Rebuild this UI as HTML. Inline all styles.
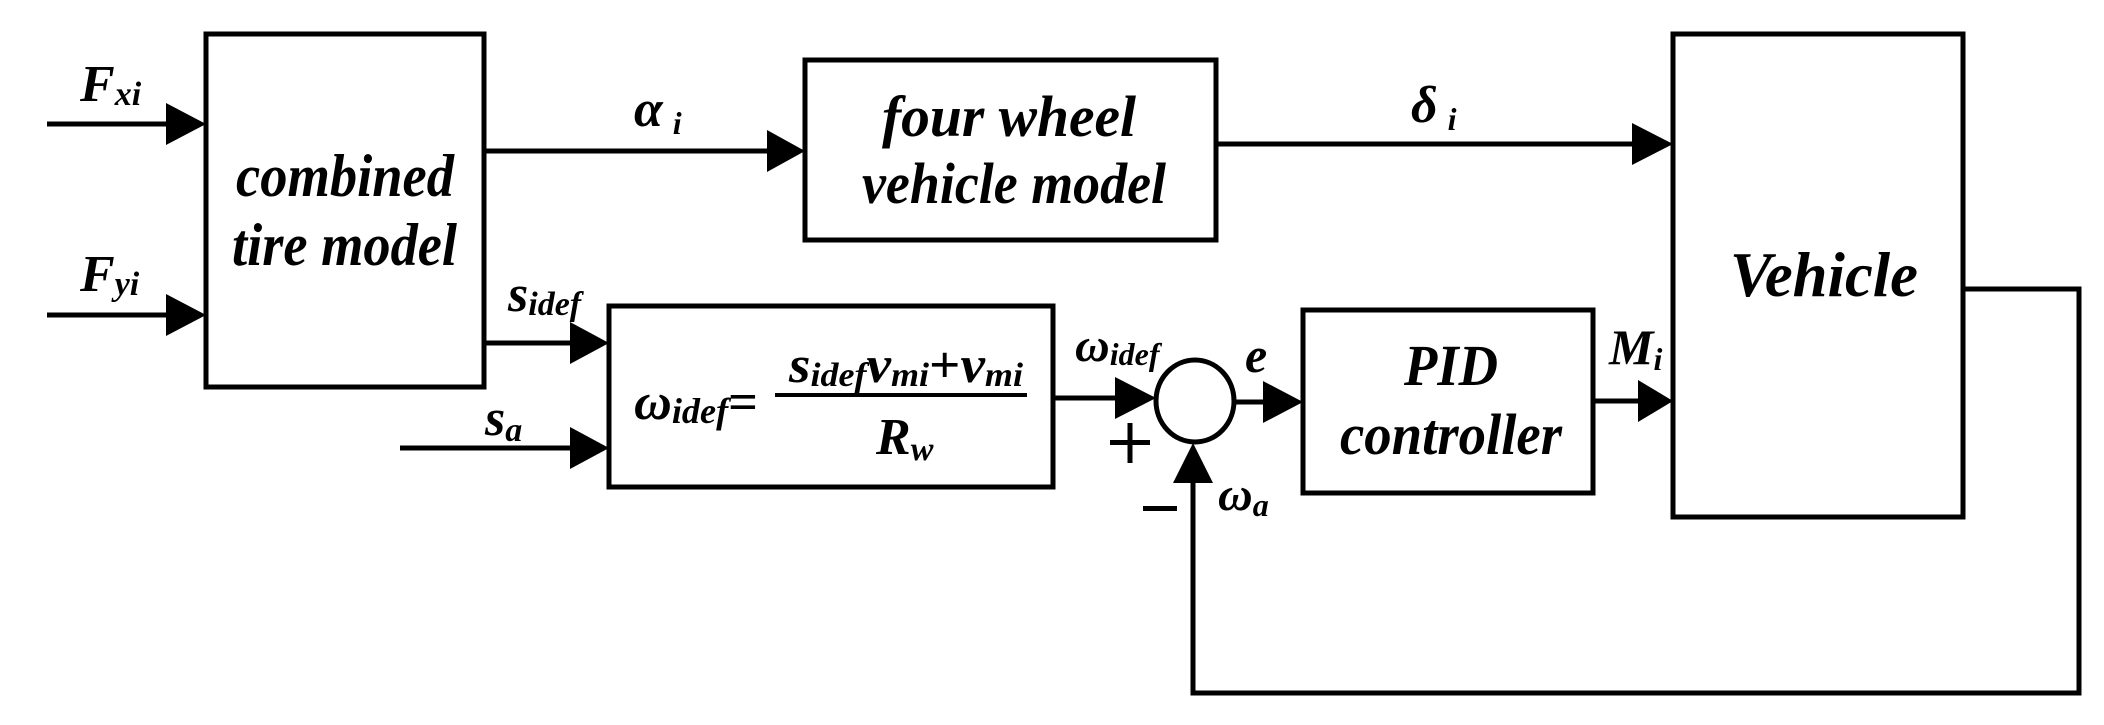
<!DOCTYPE html>
<html><head><meta charset="utf-8"><style>
html,body{margin:0;padding:0;background:#fff}
svg{display:block}
text{font-family:"Liberation Serif",serif;font-weight:bold;font-style:italic;fill:#000}
</style></head><body>
<svg width="2104" height="725" viewBox="0 0 2104 725" xmlns="http://www.w3.org/2000/svg">
<g fill="none" stroke="#000" stroke-width="5">
<rect x="206" y="34" width="278" height="353"/>
<rect x="805" y="60" width="411" height="180"/>
<rect x="609" y="306" width="444" height="181"/>
<rect x="1303" y="310" width="290" height="183"/>
<rect x="1673" y="34" width="290" height="483"/>
<ellipse cx="1195" cy="401" rx="39" ry="41"/>
<line x1="47" y1="124" x2="170" y2="124"/>
<line x1="47" y1="315" x2="170" y2="315"/>
<line x1="484" y1="151" x2="770" y2="151"/>
<line x1="484" y1="343" x2="573" y2="343"/>
<line x1="400" y1="448" x2="573" y2="448"/>
<line x1="1053" y1="398" x2="1118" y2="398"/>
<line x1="1234" y1="402" x2="1266" y2="402"/>
<line x1="1216" y1="144" x2="1636" y2="144"/>
<line x1="1593" y1="401" x2="1640" y2="401"/>
<polyline points="1963,289 2079,289 2079,693 1193,693 1193,480"/>
</g>
<g fill="#000">
<polygon points="166,103 206,124 166,145"/>
<polygon points="166,294 206,315 166,336"/>
<polygon points="767,130 805,151 767,172"/>
<polygon points="570,322 609,343 570,364"/>
<polygon points="570,427 609,448 570,469"/>
<polygon points="1115,377 1156,398 1115,419"/>
<polygon points="1263,381 1303,402 1263,423"/>
<polygon points="1632,123 1673,144 1632,165"/>
<polygon points="1638,380 1673,401 1638,422"/>
<polygon points="1173,483 1193,443 1213,483"/>
<rect x="775" y="393" width="252" height="4"/>
</g>
<text x="80" y="101" font-size="52">F<tspan font-size="34" dy="4">xi</tspan></text>
<text x="80" y="291" font-size="52">F<tspan font-size="34" dy="4">yi</tspan></text>
<text x="236" y="196" font-size="60" textLength="218" lengthAdjust="spacingAndGlyphs">combined</text>
<text x="232" y="265" font-size="60" textLength="225" lengthAdjust="spacingAndGlyphs">tire model</text>
<text x="882" y="136" font-size="58" textLength="254" lengthAdjust="spacingAndGlyphs">four wheel</text>
<text x="862" y="203" font-size="58" textLength="304" lengthAdjust="spacingAndGlyphs">vehicle model</text>
<text x="634" y="126" font-size="52">α<tspan font-size="32" dx="10" dy="8">i</tspan></text>
<text x="1411" y="122" font-size="52">δ<tspan font-size="32" dx="10" dy="8">i</tspan></text>
<text x="1730" y="296" font-size="64" textLength="188" lengthAdjust="spacingAndGlyphs">Vehicle</text>
<text x="1404" y="385" font-size="58" textLength="94" lengthAdjust="spacingAndGlyphs">PID</text>
<text x="1340" y="454" font-size="58" textLength="222" lengthAdjust="spacingAndGlyphs">controller</text>
<text x="1609" y="364" font-size="50">M<tspan font-size="32" dy="6">i</tspan></text>
<text x="508" y="311" font-size="52">s<tspan font-size="34" dy="4">idef</tspan></text>
<text x="485" y="435" font-size="52">s<tspan font-size="34" dy="6">a</tspan></text>
<text x="634" y="419" font-size="52" textLength="124" lengthAdjust="spacingAndGlyphs">ω<tspan font-size="36" dy="4">idef</tspan><tspan dy="-4" font-style="normal">=</tspan></text>
<text x="789" y="382" font-size="52" textLength="234" lengthAdjust="spacingAndGlyphs">s<tspan font-size="34" dy="4">idef</tspan><tspan dy="-4">v</tspan><tspan font-size="34" dy="4">mi</tspan><tspan dy="-4" font-style="normal">+</tspan><tspan>v</tspan><tspan font-size="34" dy="4">mi</tspan></text>
<text x="876" y="454" font-size="52">R<tspan font-size="34" dy="6">w</tspan></text>
<text x="1075" y="361" font-size="48">ω<tspan font-size="32" dy="4">idef</tspan></text>
<text x="1245" y="372" font-size="50">e</text>
<text x="1218" y="510" font-size="48">ω<tspan font-size="32" dy="6">a</tspan></text>
<g fill="#000">
<rect x="1110" y="440" width="40" height="5"/>
<rect x="1127.5" y="423" width="5" height="40"/>
<rect x="1143" y="506" width="34" height="5"/>
</g>
</svg>
</body></html>
